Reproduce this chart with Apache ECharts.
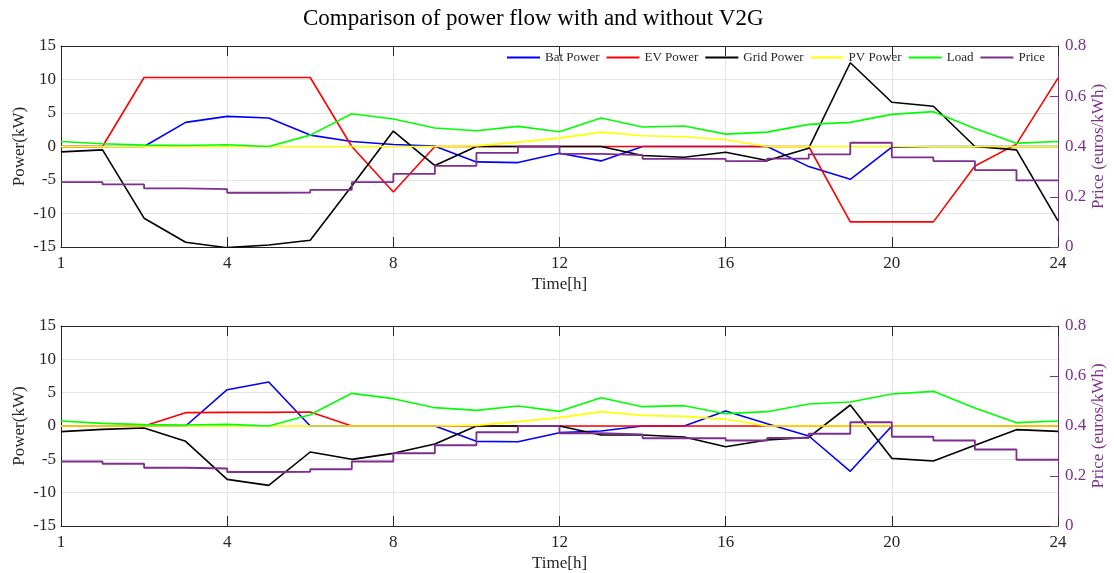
<!DOCTYPE html>
<html>
<head>
<meta charset="utf-8">
<title>Comparison of power flow with and without V2G</title>
<script src="https://cdn.jsdelivr.net/npm/echarts@6/dist/echarts.min.js"></script>
<style>
  html, body { margin: 0; padding: 0; background: #ffffff; }
  #chart { width: 1114px; height: 573px; }
</style>
</head>
<body>
<div id="chart"></div>
<script>
// Hour positions on the time axis
const hours = [0, 1, 2, 3, 4, 5, 6, 7, 8, 9, 10, 11, 12, 13, 14, 15, 16, 17, 18, 19, 20, 21, 22, 23, 24];
// Tick positions and their labels on the time axis
const xTickValues = [0, 4, 8, 12, 16, 20, 24];
const xTickLabels = ['1', '4', '8', '12', '16', '20', '24'];

// Upper panel: with V2G (kW)
const batV2G  = [0, 0, 0, 3.6, 4.5, 4.25, 1.7, 0.75, 0.3, 0.05, -2.3, -2.4, -1.0, -2.15, 0, 0, 0, 0, -3.0, -4.9, -0.1, 0, 0, 0, 0];
const evV2G   = [0, 0, 10.3, 10.3, 10.3, 10.3, 10.3, 0, -6.8, 0, 0, 0, 0, 0, 0, 0, 0, 0, 0, -11.25, -11.25, -11.25, -2.9, 0.35, 10.2];
const gridV2G = [-0.8, -0.5, -10.7, -14.3, -15.1, -14.7, -14.0, -5.9, 2.3, -2.85, 0, 0, 0, 0, -1.35, -1.6, -0.85, -2.1, -0.25, 12.5, 6.6, 6.0, 0, -0.5, -11.1];

// Lower panel: without V2G (kW)
const batNoV2G  = [0, 0, 0, 0, 5.45, 6.6, 0, 0, 0, 0, -2.3, -2.36, -1.0, -0.75, 0, 0, 2.26, 0.35, -1.5, -6.8, 0, 0, 0, 0, 0];
const evNoV2G   = [0, 0, 0, 2.0, 2.05, 2.05, 2.1, 0, 0, 0, 0, 0, 0, 0, 0, 0, 0, 0, 0, 0, 0, 0, 0, 0, 0];
const gridNoV2G = [-0.85, -0.5, -0.3, -2.3, -8.0, -8.9, -3.9, -5.0, -4.1, -2.7, 0, 0, 0, -1.35, -1.35, -1.65, -3.1, -2.1, -1.7, 3.15, -4.85, -5.25, -2.9, -0.55, -0.8];

// Shared by both panels
const pvPower = [0, 0, 0, 0, 0, 0, 0, 0, 0, 0, 0.1, 0.65, 1.25, 2.15, 1.6, 1.45, 1.0, 0, 0, 0, 0, 0, 0, 0, 0];
const load    = [0.75, 0.4, 0.2, 0.15, 0.25, 0.0, 1.7, 4.9, 4.1, 2.75, 2.35, 3.0, 2.2, 4.25, 2.9, 3.05, 1.85, 2.15, 3.3, 3.6, 4.8, 5.2, 2.7, 0.5, 0.75];
// Hourly price (euros/kWh); value at hour h holds until hour h+1
const price   = [0.258, 0.249, 0.233, 0.230, 0.216, 0.217, 0.227, 0.258, 0.291, 0.323, 0.375, 0.4, 0.371, 0.366, 0.351, 0.351, 0.342, 0.352, 0.369, 0.415, 0.357, 0.342, 0.306, 0.265, 0.265];

const seriesNames = ['Bat Power', 'EV Power', 'Grid Power', 'PV Power', 'Load', 'Price'];
const seriesColors = ['#0000ff', '#ff0000', '#000000', '#ffff00', '#00ff00', '#7e2f8e'];

const FONT = 'Liberation Serif';
const AXIS_COLOR = '#262626';
const PURPLE = '#7e2f8e';
const GRID_LINE = '#e4e4e4';

const pairs = (ys) => hours.map((h, i) => [h, ys[i]]);

function xAxesFor(gridIndex) {
  return [
    {
      gridIndex, type: 'value', min: 0, max: 24, interval: 4, position: 'bottom',
      name: 'Time[h]', nameLocation: 'middle', nameGap: 29, nameMoveOverlap: false,
      nameTextStyle: { fontFamily: FONT, fontSize: 17, color: AXIS_COLOR },
      axisLine: { show: true, onZero: false, lineStyle: { color: AXIS_COLOR, width: 1 } },
      axisTick: { show: true, inside: true, length: 10, lineStyle: { color: AXIS_COLOR } },
      axisLabel: {
        margin: 8, fontFamily: FONT, fontSize: 17, color: AXIS_COLOR,
        formatter: (v) => xTickLabels[xTickValues.indexOf(v)]
      },
      splitLine: { show: true, lineStyle: { color: GRID_LINE, width: 1 } }
    },
    {
      gridIndex, type: 'value', min: 0, max: 24, interval: 4, position: 'top',
      axisLine: { show: true, onZero: false, lineStyle: { color: AXIS_COLOR, width: 1 } },
      axisTick: { show: true, inside: true, length: 10, lineStyle: { color: AXIS_COLOR } },
      axisLabel: { show: false },
      splitLine: { show: false }
    }
  ];
}

function yAxesFor(gridIndex) {
  return [
    {
      gridIndex, type: 'value', min: -15, max: 15, interval: 5, position: 'left',
      name: 'Power(kW)', nameLocation: 'middle', nameGap: 33, nameRotate: 90, nameMoveOverlap: false,
      nameTextStyle: { fontFamily: FONT, fontSize: 17, color: AXIS_COLOR },
      axisLine: { show: true, onZero: false, lineStyle: { color: AXIS_COLOR, width: 1 } },
      axisTick: { show: false },
      axisLabel: { margin: 5, fontFamily: FONT, fontSize: 17, color: AXIS_COLOR },
      splitLine: { show: true, lineStyle: { color: GRID_LINE, width: 1 } }
    },
    {
      gridIndex, type: 'value', min: 0, max: 0.8, interval: 0.2, position: 'right',
      name: 'Price (euros/kWh)', nameLocation: 'middle', nameGap: 32, nameRotate: 90, nameMoveOverlap: false,
      nameTextStyle: { fontFamily: FONT, fontSize: 17, color: PURPLE },
      axisLine: { show: true, onZero: false, lineStyle: { color: PURPLE, width: 1 } },
      axisTick: { show: true, inside: true, length: 8, lineStyle: { color: PURPLE } },
      axisLabel: { margin: 7, fontFamily: FONT, fontSize: 17, color: PURPLE,
                   formatter: (v) => (v === 0 ? '0' : v.toFixed(1)) },
      splitLine: { show: false }
    }
  ];
}

function seriesFor(panel, bat, ev, grid) {
  const xi = panel * 2;
  const yi = panel * 2;
  const values = [bat, ev, grid, pvPower, load];
  const list = values.map((ys, k) => ({
    name: seriesNames[k], type: 'line', xAxisIndex: xi, yAxisIndex: yi,
    data: pairs(ys), showSymbol: false, symbol: 'none',
    lineStyle: { color: seriesColors[k], width: 1.6 },
    itemStyle: { color: seriesColors[k] }
  }));
  list.push({
    name: seriesNames[5], type: 'line', xAxisIndex: xi, yAxisIndex: yi + 1,
    data: pairs(price), step: 'end', showSymbol: false, symbol: 'none',
    lineStyle: { color: seriesColors[5], width: 1.8 },
    itemStyle: { color: seriesColors[5] }
  });
  return list;
}

const chart = echarts.init(document.getElementById('chart'), null, { renderer: 'canvas' });
chart.setOption({
  animation: false,
  backgroundColor: '#ffffff',
  title: {
    text: 'Comparison of power flow with and without V2G',
    left: 303, top: 7, padding: 0,
    textStyle: { fontFamily: FONT, fontSize: 23, fontWeight: 'normal', color: '#000000' }
  },
  legend: {
    data: seriesNames,
    left: 507, top: 51, padding: 0,
    icon: 'rect', itemWidth: 33, itemHeight: 2, itemGap: 7,
    textStyle: { fontFamily: FONT, fontSize: 13, color: AXIS_COLOR }
  },
  grid: [
    { left: 61, right: 56, top: 46, height: 201, containLabel: false, outerBoundsMode: 'none' },
    { left: 61, right: 56, top: 326, height: 200, containLabel: false, outerBoundsMode: 'none' }
  ],
  xAxis: [...xAxesFor(0), ...xAxesFor(1)],
  yAxis: [...yAxesFor(0), ...yAxesFor(1)],
  series: [
    ...seriesFor(0, batV2G, evV2G, gridV2G),
    ...seriesFor(1, batNoV2G, evNoV2G, gridNoV2G)
  ]
});
</script>
</body>
</html>
